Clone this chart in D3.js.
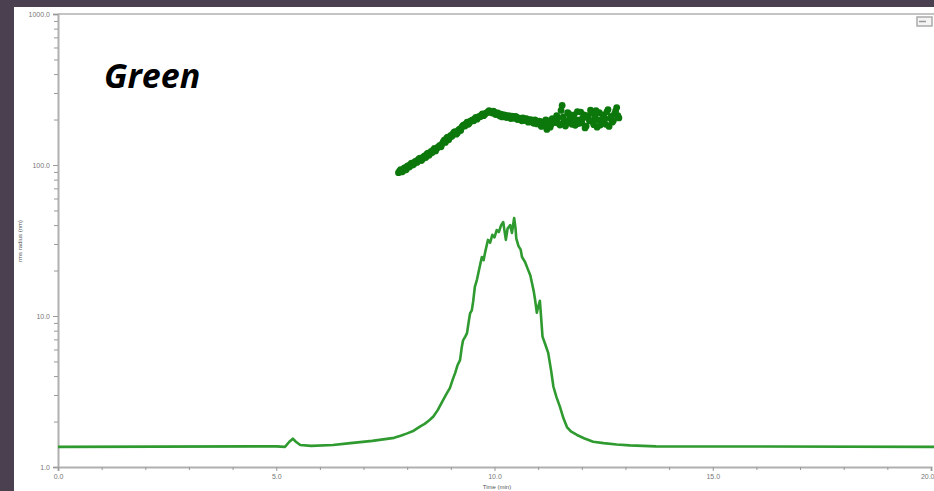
<!DOCTYPE html>
<html>
<head>
<meta charset="utf-8">
<script src="https://cdn.jsdelivr.net/npm/d3@7"></script>
<style>
  html, body { margin: 0; padding: 0; background: #4a4050; }
  svg { display: block; }
</style>
</head>
<body>
<svg id="chart" width="934" height="491"></svg>
<script>
// axis ticks
var xTicks = [0, 5, 10, 15, 20];
var yDecades = [1, 10, 100, 1000];

// concentration trace (time min, signal)
var traceTime = [0, 5.0, 5.2, 5.3, 5.38, 5.45, 5.55, 5.8, 6.3, 6.7, 7.2, 7.7, 7.85, 8.0, 8.15, 8.3, 8.4, 8.5, 8.6, 8.7,
  8.8, 8.9, 8.98, 9.05, 9.1, 9.15, 9.21, 9.25, 9.28, 9.33, 9.37, 9.41, 9.44, 9.48, 9.51, 9.55, 9.6, 9.65, 9.71, 9.75,
  9.79, 9.85, 9.9, 9.95, 10.0, 10.05, 10.1, 10.15, 10.2, 10.23, 10.26, 10.3, 10.36, 10.4, 10.45, 10.48, 10.5, 10.55, 10.6, 10.63,
  10.7, 10.77, 10.82, 10.86, 10.9, 10.93, 10.97, 11.0, 11.04, 11.07, 11.1, 11.17, 11.23, 11.3, 11.35, 11.42, 11.5, 11.58, 11.66, 11.75,
  11.89, 12.05, 12.26, 12.5, 12.8, 13.1, 13.7, 20.2];
var traceValue = [1.36, 1.37, 1.36, 1.47, 1.54, 1.47, 1.40, 1.38, 1.40, 1.44, 1.49, 1.56, 1.61, 1.67, 1.74, 1.86, 1.93, 2.03, 2.16, 2.38,
  2.70, 3.05, 3.34, 3.85, 4.2, 4.7, 5.1, 6.2, 6.9, 7.3, 7.7, 9.2, 10.4, 10.9, 12.4, 15.6, 17.5, 20.5, 24.6, 23.4,
  26.8, 31.9, 30.6, 34.5, 33.2, 37.1, 36.0, 39.8, 41.9, 36.5, 31.9, 38.0, 40.0, 35.5, 44.6, 38.5, 32.5, 29.0, 27.5, 24.6,
  22.8, 20.2, 18.6, 16.5, 14.5, 12.8, 10.5, 11.5, 12.6, 9.6, 7.3, 6.4, 5.7, 4.3, 3.4, 2.9, 2.5, 2.1, 1.84, 1.72,
  1.63, 1.55, 1.47, 1.44, 1.41, 1.39, 1.37, 1.36];

// rms radius points: slice A every 0.05 min from 7.800, slice B every 0.05 min from 7.825
var rmsStart = 7.8, rmsStep = 0.05;
var rmsValueA = [
  89, 93, 91, 96, 98, 97, 103, 101, 106, 108,
  111, 109, 115, 118, 116, 123, 126, 124, 131, 135,
  138, 146, 150, 147, 157, 161, 166, 163, 173, 178,
  184, 188, 186, 195, 199, 203, 201, 210, 214, 212,
  220, 224, 226, 221, 224, 219, 214, 217, 211, 213,
  209, 206, 211, 204, 208, 202, 199, 205, 197, 201,
  194, 198, 189, 196, 192, 185, 193, 188, 172, 196,
  186, 199, 191, 205, 184, 248, 196, 188, 219, 197,
  208, 183, 226, 199, 190, 215, 181, 205, 231, 193,
  208, 178, 222, 196, 211, 186, 233, 204, 192, 218,
  240, 205];
var rmsValueB = [
  91, 90, 95, 93, 99, 101, 100, 105, 104, 110,
  107, 113, 112, 120, 119, 121, 129, 128, 133, 132,
  142, 141, 153, 152, 155, 165, 160, 170, 169, 182,
  181, 192, 190, 197, 196, 207, 206, 209, 218, 216,
  222, 229, 223, 227, 216, 221, 211, 208, 215, 206,
  212, 203, 207, 210, 200, 204, 196, 200, 203, 192,
  200, 191, 199, 187, 195, 180, 190, 199, 184, 178,
  203, 192, 212, 188, 230, 208, 181, 222, 205, 186,
  215, 198, 188, 224, 204, 176, 212, 196, 222, 185,
  229, 199, 184, 215, 202, 225, 180, 210, 197, 228,
  212];

var svg = d3.select("#chart");

// white panel
svg.append("rect").attr("x", 14).attr("y", 7).attr("width", 920).attr("height", 484).attr("fill", "#ffffff");

var x = d3.scaleLinear().domain([0, 20]).range([58, 931]);
var y = d3.scaleLog().domain([1, 1000]).range([467, 14]);

// minor log ticks 2..9 in each decade
var yMinor = [];
yDecades.slice(0, 3).forEach(function (d) {
  for (var k = 2; k <= 9; k++) yMinor.push(d * k);
});
var xMinor = d3.range(0, 21).filter(function (d) { return d % 5 !== 0; });

// top frame line
svg.append("line").attr("x1", 58).attr("x2", 934).attr("y1", 14).attr("y2", 14)
  .attr("stroke", "#c4c4c4").attr("stroke-width", 2);

// y axis
svg.append("g").attr("transform", "translate(58,0)")
  .call(d3.axisLeft(y).tickValues(yDecades).tickFormat(d3.format(".1f")).tickSize(5).tickPadding(3));
svg.append("g").attr("transform", "translate(58,0)")
  .call(d3.axisLeft(y).tickValues(yMinor).tickFormat("").tickSize(4))
  .select(".domain").remove();

// x axis
var xAxis = svg.append("g").attr("transform", "translate(0,467)")
  .call(d3.axisBottom(x).tickValues(xTicks).tickFormat(d3.format(".1f")).tickSize(4).tickPadding(3));
svg.append("g").attr("transform", "translate(0,467)")
  .call(d3.axisBottom(x).tickValues(xMinor).tickFormat("").tickSize(3))
  .select(".domain").remove();

svg.selectAll(".domain").attr("stroke", "#b0b0b0").attr("stroke-width", 2);
svg.selectAll(".tick line").attr("stroke", "#999");
svg.selectAll(".tick text").attr("fill", "#777").style("font-family", "Liberation Sans, Arial, sans-serif").style("font-size", "7px");
// last x label sits on the window edge, keep it inside
xAxis.selectAll(".tick text").filter(function (d) { return d === 20; })
  .attr("text-anchor", "end").attr("x", 3);

// axis titles
svg.append("text").attr("transform", "translate(22,241) rotate(-90)")
  .attr("text-anchor", "middle").attr("fill", "#555")
  .style("font-family", "Liberation Sans, Arial, sans-serif").style("font-size", "6px")
  .text("rms radius (nm)");
svg.append("text").attr("x", 497).attr("y", 489)
  .attr("text-anchor", "middle").attr("fill", "#555")
  .style("font-family", "Liberation Sans, Arial, sans-serif").style("font-size", "6px")
  .text("Time (min)");

// little legend box, top right
svg.append("rect").attr("x", 917).attr("y", 17).attr("width", 15).attr("height", 9)
  .attr("fill", "#f4f4f4").attr("stroke", "#aaa").attr("stroke-width", 1.5);
svg.append("line").attr("x1", 919).attr("x2", 926).attr("y1", 21.5).attr("y2", 21.5)
  .attr("stroke", "#999").attr("stroke-width", 1.5);

// trace line
var line = d3.line()
  .x(function (d, i) { return x(traceTime[i]); })
  .y(function (d) { return y(d); });
svg.append("clipPath").attr("id", "plotClip")
  .append("rect").attr("x", 58).attr("y", 14).attr("width", 876).attr("height", 453);
svg.append("path").datum(traceValue)
  .attr("clip-path", "url(#plotClip)")
  .attr("fill", "none").attr("stroke", "#2f9a2f").attr("stroke-width", 2.6)
  .attr("stroke-linejoin", "round").attr("d", line);

// rms radius dots
var dots = svg.append("g").attr("fill", "#0c780c");
dots.selectAll("circle.a").data(rmsValueA).enter().append("circle").attr("class", "a")
  .attr("cx", function (d, i) { return x(rmsStart + i * rmsStep); })
  .attr("cy", function (d) { return y(d); })
  .attr("r", 3.4);
dots.selectAll("circle.b").data(rmsValueB).enter().append("circle").attr("class", "b")
  .attr("cx", function (d, i) { return x(rmsStart + rmsStep / 2 + i * rmsStep); })
  .attr("cy", function (d) { return y(d); })
  .attr("r", 3.4);

// big label
svg.append("text").attr("x", 104).attr("y", 88)
  .attr("fill", "#000")
  .style("font-family", "Open Sans, sans-serif").style("font-weight", "bold").style("font-style", "italic")
  .style("font-size", "34px")
  .text("Green");
</script>
</body>
</html>
